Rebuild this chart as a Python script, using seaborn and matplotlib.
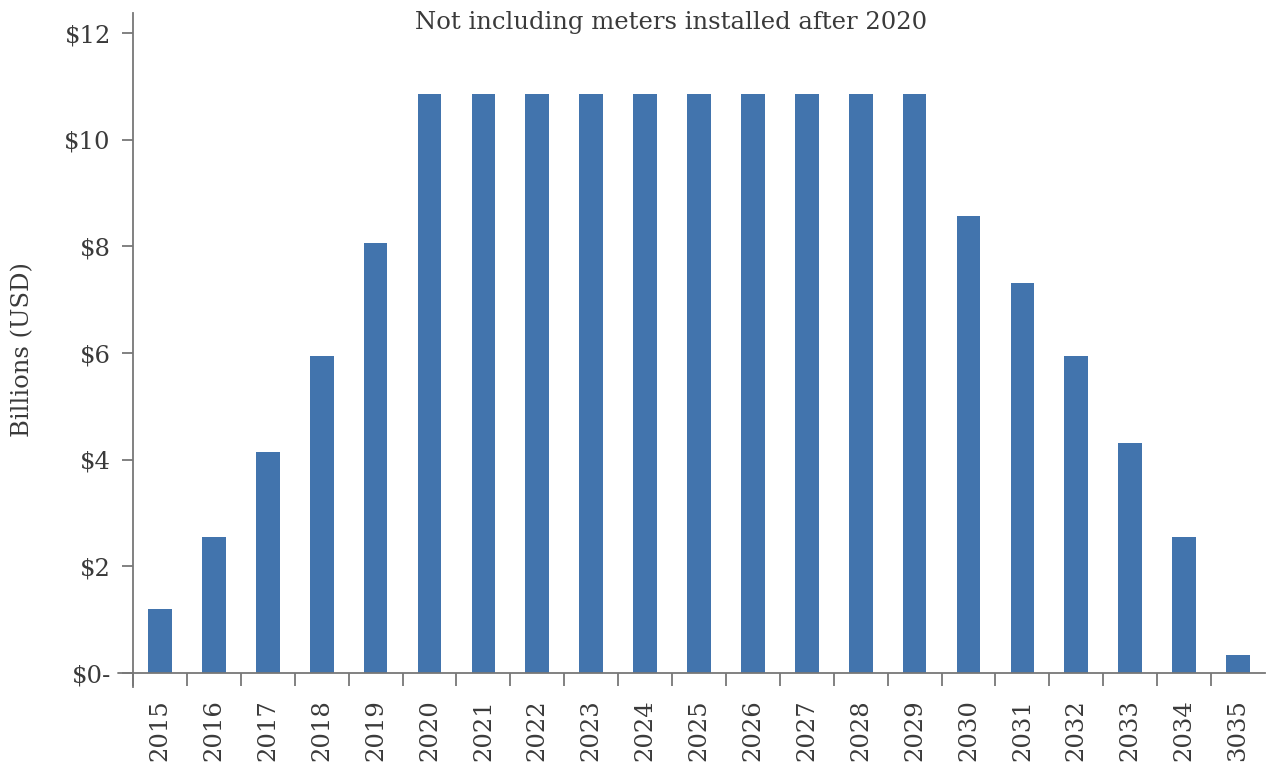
import matplotlib
matplotlib.use("Agg")
import matplotlib.pyplot as plt
import numpy as np
import pandas as pd
import seaborn as sns

years = ["2015", "2016", "2017", "2018", "2019", "2020", "2021", "2022", "2023", "2024",
         "2025", "2026", "2027", "2028", "2029", "2030", "2031", "2032", "2033", "2034", "3035"]
costs = [1.2, 2.55, 4.14, 5.94, 8.06, 10.86, 10.86, 10.86, 10.86, 10.86,
         10.86, 10.86, 10.86, 10.86, 10.86, 8.57, 7.31, 5.94, 4.31, 2.55, 0.34]
y_ticks = [0, 2, 4, 6, 8, 10, 12]
y_labels = ["$0-", "$2", "$4", "$6", "$8", "$10", "$12"]

BAR_COLOR = "#4274ad"
TEXT_COLOR = "#3a3a3a"
AXIS_COLOR = "#777777"
FONT_SIZE = 17.5

sns.set_style("white")
plt.rcParams["font.family"] = ["DejaVu Serif"]

df = pd.DataFrame({"year": years, "cost": costs})

fig = plt.figure(figsize=(12.67, 7.62), dpi=100)
ax = fig.add_axes([133 / 1267, 75 / 762, 1132 / 1267, 674 / 762])

sns.barplot(data=df, x="year", y="cost", color=BAR_COLOR, saturation=1, width=0.44,
            linewidth=0, ax=ax)

ax.set_xlim(-0.5, len(years) - 0.5)
ax.set_ylim(-0.2625, 12.375)

ax.spines["top"].set_visible(False)
ax.spines["right"].set_visible(False)
ax.spines["bottom"].set_position(("data", 0))
for side in ["left", "bottom"]:
    ax.spines[side].set_color(AXIS_COLOR)
    ax.spines[side].set_linewidth(1.3)

ax.set_yticks(y_ticks)
ax.set_yticklabels(y_labels)
ax.tick_params(axis="y", length=8, width=1.3, color=AXIS_COLOR, pad=8,
               labelsize=FONT_SIZE, labelcolor=TEXT_COLOR, left=True)

ax.set_xticks(np.arange(len(years)))
ax.set_xticklabels(years, rotation=90)
ax.tick_params(axis="x", which="major", length=0, pad=19, labelsize=FONT_SIZE, labelcolor=TEXT_COLOR)
# tick marks sit on the category boundaries, none at the far right end
ax.set_xticks(np.arange(len(years)) - 0.5, minor=True)
ax.tick_params(axis="x", which="minor", length=9, width=1.3, color=AXIS_COLOR, bottom=True)

# baseline reaches a bit past the y spine, like a tick at $0
ax.plot([-0.013, 0], [0, 0], color=AXIS_COLOR, linewidth=1.3,
        transform=ax.get_yaxis_transform(), clip_on=False)

ax.set_xlabel("")
ax.set_ylabel("Billions (USD)", fontsize=FONT_SIZE, color=TEXT_COLOR, labelpad=22)

fig.text(671 / 1267, 1 - 22 / 762, "Not including meters installed after 2020",
         ha="center", va="center", fontsize=FONT_SIZE, color=TEXT_COLOR)

fig.savefig("out.png", dpi=100)
